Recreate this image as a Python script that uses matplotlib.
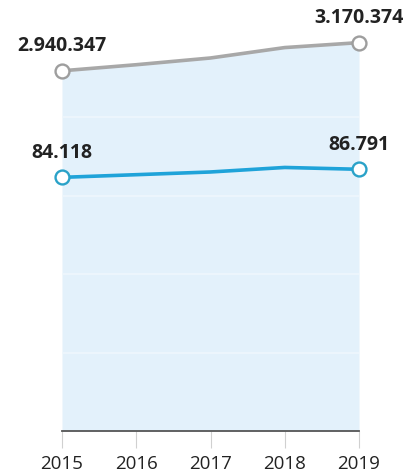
import matplotlib
matplotlib.use("Agg")
import matplotlib.pyplot as plt

years = [2015, 2016, 2017, 2018, 2019]
gray_values = [2940347, 2990000, 3045000, 3130000, 3170374]
blue_values = [84118, 85000, 85900, 87400, 86791]
gray_labels = {2015: "2.940.347", 2019: "3.170.374"}
blue_labels = {2015: "84.118", 2019: "86.791"}

plt.rcParams['font.family'] = ['Open Sans', 'DejaVu Sans']

W, H = 405, 472
fig = plt.figure(figsize=(W / 100, H / 100), dpi=100)
ax = fig.add_axes([62 / W, 41 / H, (359 - 62) / W, 392 / H])
ax.set_xlim(2015, 2019)
ax.set_ylim(0, 3200000)

gray = '#a8a8a8'
blue = '#1fa3d9'
blue_edge = '#2aa2c8'

ax.fill_between(years, gray_values, 0, color='#e3f1fb', lw=0, zorder=1)
for v in [640000, 1280000, 1920000, 2560000]:
    ax.axhline(v, color='#eef7fd', lw=1.2, zorder=2)

ax.plot(years, gray_values, color=gray, lw=2.6, zorder=4, solid_capstyle='round')
ax.plot([years[0], years[-1]], [gray_values[0], gray_values[-1]], ls='none',
        marker='o', ms=10, mfc='white', mec='#9e9e9e', mew=1.7, zorder=6, clip_on=False)

for x, v in zip(years, gray_values):
    if x in gray_labels:
        ax.annotate(gray_labels[x], (x, v), xytext=(0, 10.5), textcoords='offset points',
                    ha='center', va='bottom', fontsize=14, fontweight='bold',
                    color='#222222', annotation_clip=False, zorder=7)

ax2 = ax.twinx()
ax2.set_ylim(0, 130000)
ax2.set_xlim(2015, 2019)
ax2.plot(years, blue_values, color=blue, lw=2.6, zorder=4, solid_capstyle='round')
ax2.plot([years[0], years[-1]], [blue_values[0], blue_values[-1]], ls='none',
         marker='o', ms=10, mfc='white', mec=blue_edge, mew=1.7, zorder=6, clip_on=False)
for x, v in zip(years, blue_values):
    if x in blue_labels:
        ax2.annotate(blue_labels[x], (x, v), xytext=(0, 10.5), textcoords='offset points',
                     ha='center', va='bottom', fontsize=14, fontweight='bold',
                     color='#222222', annotation_clip=False, zorder=7)

for a in (ax, ax2):
    for s in ['top', 'right', 'left']:
        a.spines[s].set_visible(False)
    a.set_yticks([])
    a.patch.set_visible(False)
ax2.spines['bottom'].set_visible(False)
ax2.tick_params(axis='x', length=0, labelbottom=False)

ax.spines['bottom'].set_color('#555555')
ax.spines['bottom'].set_linewidth(1.3)
ax.set_xticks(years)
ax.set_xticklabels([str(y) for y in years])
ax.tick_params(axis='x', length=12, width=0.8, color='#d0d0d0', pad=5.5,
               labelsize=13.5, labelcolor='#222222')

fig.savefig('out.png', dpi=100, facecolor='white')
